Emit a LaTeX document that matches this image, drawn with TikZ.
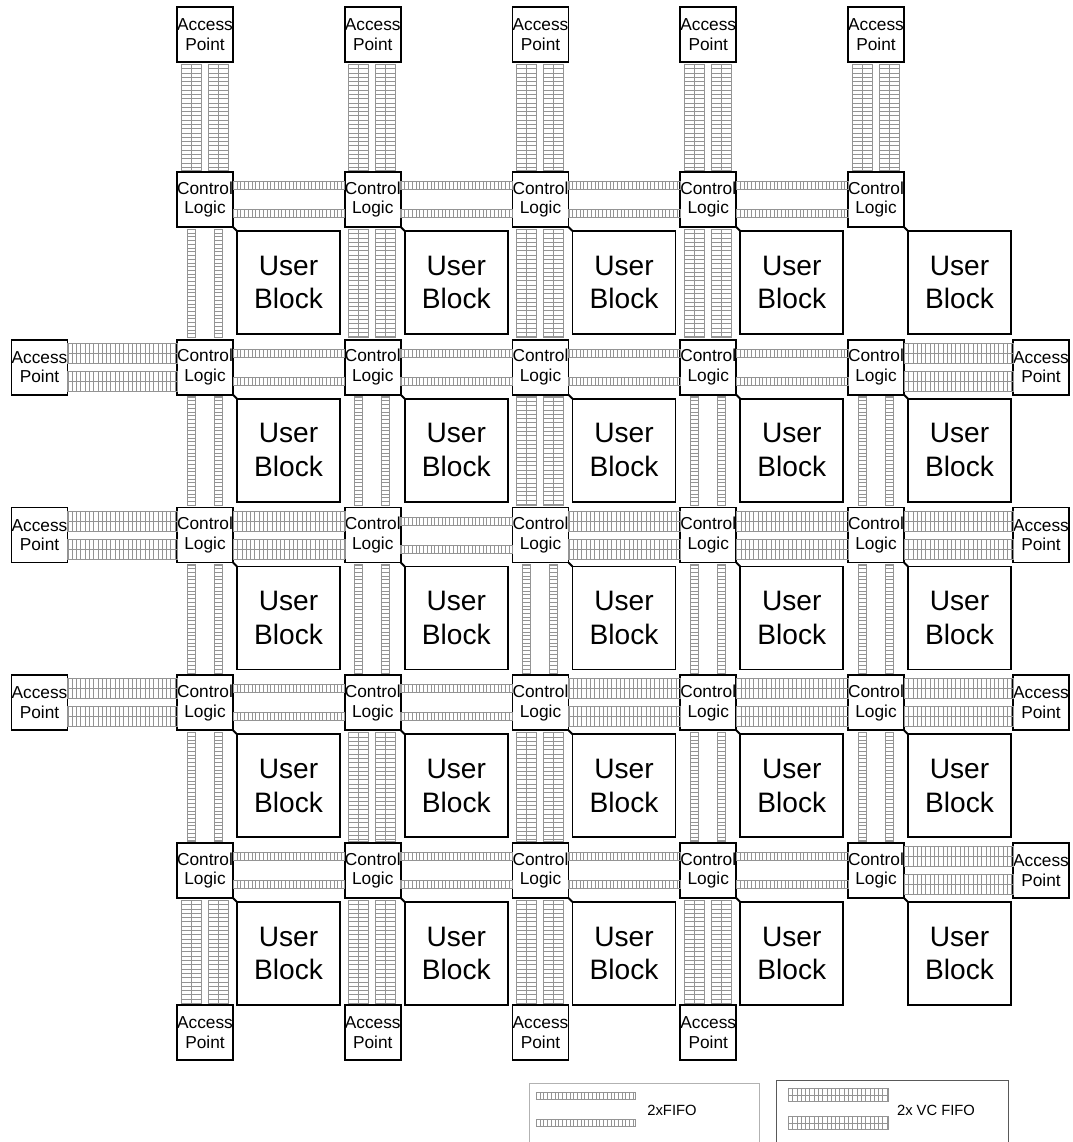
\documentclass[tikz,border=0pt]{standalone}
\usepackage{fontspec}
\setmainfont{Liberation Sans}
\usetikzlibrary{calc}

\newcommand{\fifobar}[4]{%
  \draw[bar] ($(#3)!0.5*#1!90:(#4)$) -- ($(#3)!0.5*#1!-90:(#4)$) -- ($(#4)!0.5*#1!90:(#3)$) -- ($(#4)!0.5*#1!-90:(#3)$) -- cycle;
  \draw[bar, line width=#1, dash pattern=on 0.55pt off #2] (#3) -- (#4);}
\newcommand{\fifo}[3][0.2cm]{\fifobar{#1}{2.1pt}{#2}{#3}}
\newcommand{\vcfifo}[3][0.5cm]{%
  \fifobar{#1}{2.5pt}{#2}{#3}
  \draw[bar] (#2) -- (#3);}
\newcommand{\hlink}[3]{%
  \coordinate (la) at ($(#2.east)+(0,-14)$);
  \coordinate (lb) at ($(#3.west)+(0,-14)$);
  #1{la}{lb}
  \coordinate (la) at ($(#2.east)+(0,14)$);
  \coordinate (lb) at ($(#3.west)+(0,14)$);
  #1{la}{lb}}
\newcommand{\vlink}[3]{%
  \coordinate (la) at ($(#2.south)+(-14,2)$);
  \coordinate (lb) at ($(#3.north)+(-14,-2)$);
  #1{la}{lb}
  \coordinate (la) at ($(#2.south)+(13,2)$);
  \coordinate (lb) at ($(#3.north)+(13,-2)$);
  #1{la}{lb}}

\begin{document}
\begin{tikzpicture}[x=0.025cm, y=-0.025cm,
  ctl/.style={draw,line width=1.3pt,minimum width=1.4cm,minimum height=1.375cm,inner sep=0pt,outer sep=0pt,align=center,font=\fontsize{12.3}{14}\selectfont},
  user/.style={draw,line width=1.3pt,minimum size=2.575cm,inner sep=0pt,outer sep=0pt,align=center,font=\fontsize{20}{24}\selectfont},
  bar/.style={draw=black!42,line width=0.6pt},
  legend/.style={line width=0.6pt},
  legendtext/.style={font=\fontsize{10.5}{12}\selectfont,inner sep=0pt}]
\useasboundingbox (0,0) rectangle (1072,1142);

\foreach \r in {1,...,5} \foreach \c in {1,...,5} {
  \node[ctl] (cl-\r-\c) at ({205+167.75*(\c-1)},{199.5+167.75*(\r-1)}) {Control\\Logic};
  \node[user] (ub-\r-\c) at ($(cl-\r-\c)+(83.5,83)$) {User\\Block};
  \draw[line width=1.3pt] (cl-\r-\c.south east) -- (ub-\r-\c.north west);
}
\foreach \c in {1,...,5} \node[ctl] (ap-t-\c) at ($(cl-1-\c)+(0,-165)$) {Access\\Point};
\foreach \c in {1,...,4} \node[ctl] (ap-b-\c) at ($(cl-5-\c)+(0,162)$) {Access\\Point};
\foreach \r in {2,3,4} \node[ctl] (ap-l-\r) at ($(cl-\r-1)+(-165.5,0)$) {Access\\Point};
\foreach \r in {2,...,5} \node[ctl] (ap-r-\r) at ($(cl-\r-5)+(165,0)$) {Access\\Point};

\foreach \r/\c in {1/1,1/2,1/3,1/4,2/1,2/2,2/3,2/4,3/2,4/1,4/2,5/1,5/2,5/3,5/4} {
  \pgfmathtruncatemacro{\n}{\c+1}
  \hlink{\fifo}{cl-\r-\c}{cl-\r-\n}}
\foreach \r/\c in {3/1,3/3,3/4,4/3,4/4} {
  \pgfmathtruncatemacro{\n}{\c+1}
  \hlink{\vcfifo}{cl-\r-\c}{cl-\r-\n}}
\foreach \r in {2,3,4} \hlink{\vcfifo}{ap-l-\r}{cl-\r-1};
\foreach \r in {2,...,5} \hlink{\vcfifo}{cl-\r-5}{ap-r-\r};

\foreach \r/\c in {1/1,2/1,2/2,2/4,2/5,3/1,3/2,3/3,3/4,3/5,4/1,4/4,4/5} {
  \pgfmathtruncatemacro{\n}{\r+1}
  \vlink{\fifo}{cl-\r-\c}{cl-\n-\c}}
\foreach \r/\c in {1/2,1/3,1/4,2/3,4/2,4/3} {
  \pgfmathtruncatemacro{\n}{\r+1}
  \vlink{\vcfifo}{cl-\r-\c}{cl-\n-\c}}
\foreach \c in {1,...,5} \vlink{\vcfifo}{ap-t-\c}{cl-1-\c};
\foreach \c in {1,...,4} \vlink{\vcfifo}{cl-5-\c}{ap-b-\c};

\draw[legend,draw=black!30] (529,1145) |- (759,1083) -- (759,1145);
\coordinate (lg-a) at (536,1095.5);
\coordinate (lg-b) at (635,1095.5);
\coordinate (lg-c) at (536,1122.5);
\coordinate (lg-d) at (635,1122.5);
\fifo[0.175cm]{lg-a}{lg-b}
\fifo[0.175cm]{lg-c}{lg-d}
\node[legendtext] (lg-fifo) at (672,1110) {2xFIFO};

\draw[legend,draw=black!65] (776,1145) |- (1008,1080) -- (1008,1145);
\coordinate (lg-e) at (788,1095);
\coordinate (lg-f) at (888,1095);
\coordinate (lg-g) at (788,1123);
\coordinate (lg-h) at (888,1123);
\vcfifo[0.33cm]{lg-e}{lg-f}
\vcfifo[0.33cm]{lg-g}{lg-h}
\node[legendtext] (lg-vc) at (936,1110) {2x VC FIFO};
\end{tikzpicture}
\end{document}
